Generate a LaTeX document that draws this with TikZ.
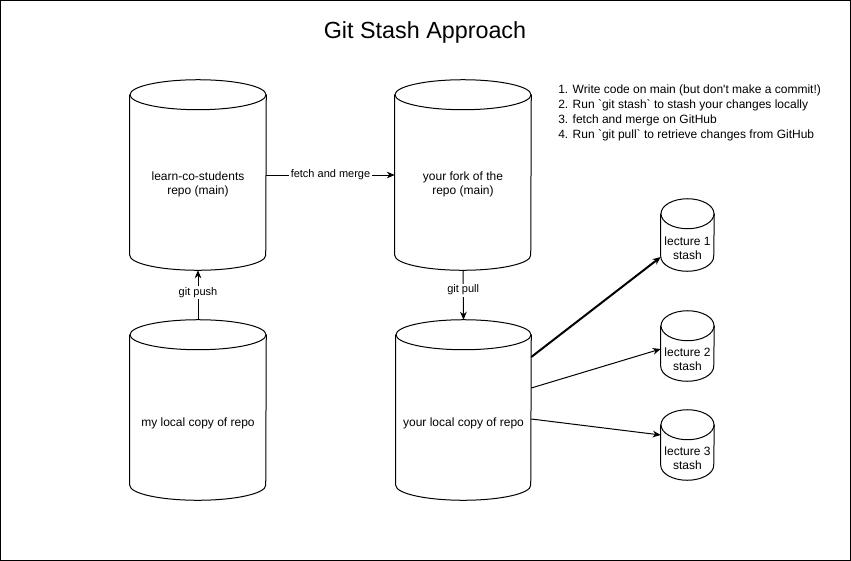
\documentclass[tikz,border=0pt]{standalone}
\usepackage{fontspec}
\setmainfont{Liberation Sans}
\usetikzlibrary{arrows.meta,calc}
\tikzset{
  cyltext/.style={draw=none, inner sep=0pt, align=center, font=\fontsize{9}{10.5}\selectfont},
  cylline/.style={line width=0.75pt, fill=white},
  conn/.style={line width=0.75pt, -{Stealth[length=6pt,width=5pt]}},
  elabel/.style={fill=white, inner sep=1pt, font=\fontsize{8.25}{9}\selectfont},
}
% name, cx, cy, w, h, text offset (px), text
\newcommand\drawcyl[7]{%
  \node[cyltext, minimum width=#4*0.75pt, minimum height=#5*0.75pt] (#1) at (#2,#3) {};
  \draw[cylline] ([yshift=-11.25pt]#1.north west) -- ([yshift=11.25pt]#1.south west)
     arc[start angle=180, end angle=360, x radius=#4*0.375pt, y radius=11.25pt]
     -- ([yshift=-11.25pt]#1.north east);
  \draw[cylline] ([yshift=-11.25pt]#1.north) ellipse [x radius=#4*0.375pt, y radius=11.25pt];
  \node[cyltext] (#1-t) at ([yshift=-#6*0.75pt]#1.center) {#7};
}
\begin{document}
\begin{tikzpicture}[x=0.75pt, y=-0.75pt]
\useasboundingbox (0,0) rectangle (851,561);
\draw[line width=1.1pt] (0.75,0.75) rectangle (850.25,560.25);

\node[font=\fontsize{17.5}{20}\selectfont] (title) at (425,32) {Git Stash Approach};

\node[anchor=north west, align=left, inner sep=0pt, font=\fontsize{9}{11.25}\selectfont] (steps) at (558,85)
 {1. Write code on main (but don\textquotesingle t make a commit!)\\
  2. Run \textasciigrave git stash\textasciigrave{} to stash your changes locally\\
  3. fetch and merge on GitHub\\
  4. Run \textasciigrave git pull\textasciigrave{} to retrieve changes from GitHub};

\drawcyl{A}{198}{175}{136}{190}{9}{learn-co-students\\repo (main)}
\drawcyl{B}{463}{175}{136}{190}{9}{your fork of the\\repo (main)}
\drawcyl{C}{198}{410}{136}{180}{13}{my local copy of repo}
\drawcyl{D}{463.5}{410}{135}{180}{13}{your local copy of repo}
\drawcyl{S1}{687.5}{235}{53}{72}{13}{lecture 1\\stash}
\drawcyl{S2}{687.5}{346}{53}{70}{13}{lecture 2\\stash}
\drawcyl{S3}{687.5}{445}{53}{70}{13}{lecture 3\\stash}

\draw[conn] (A.east) -- node[elabel] (l1) {fetch and merge} (B.west);
\draw[conn] (C.north) -- node[elabel, pos=0.55] (l2) {git push} (A.south);
\draw[conn] (B.south) -- node[elabel, pos=0.4] (l3) {git pull} (D.north);

\draw[conn, line width=1.5pt] ([yshift=39.75pt]D.east) -- ([yshift=-16.5pt]S1.west);
\draw[conn] ([yshift=16.5pt]D.east) -- ([yshift=-2.25pt]S2.west);
\draw[conn] ([yshift=-6.75pt]D.east) -- ([yshift=7.5pt]S3.west);
\end{tikzpicture}
\end{document}
